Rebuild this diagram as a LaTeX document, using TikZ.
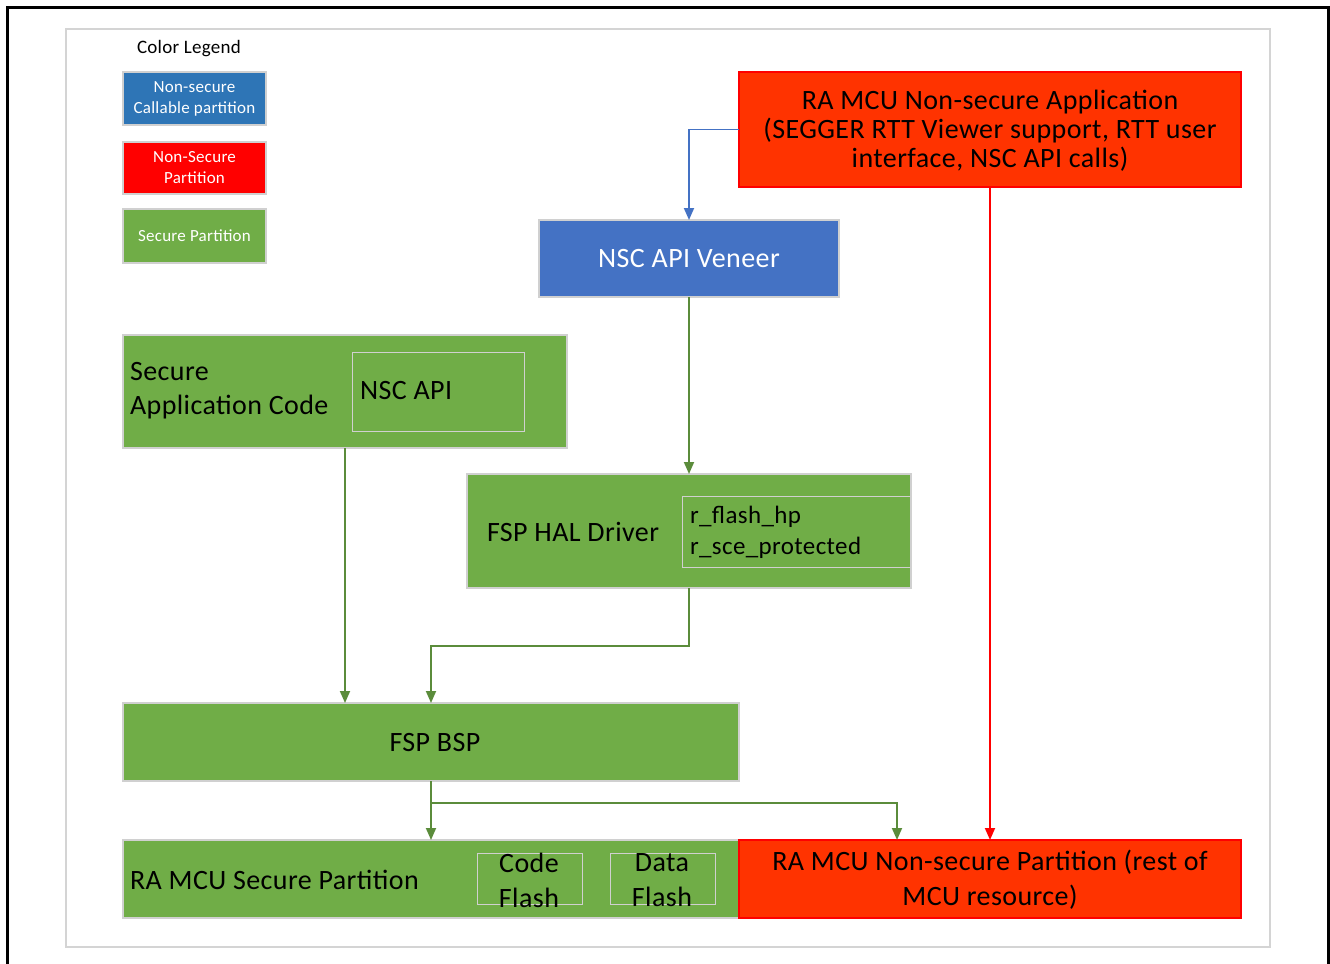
\documentclass[tikz,border=0pt]{standalone}
\usepackage{fontspec}
\setmainfont{Carlito}[LetterSpace=1.5]
\usetikzlibrary{arrows.meta,fit}
\definecolor{sgreen}{HTML}{70AD47}
\definecolor{nsred}{HTML}{FF3300}
\definecolor{legred}{HTML}{FF0000}
\definecolor{legblue}{HTML}{2E75B6}
\definecolor{veneer}{HTML}{4472C4}
\definecolor{agreen}{HTML}{5B8C3B}
\definecolor{edgegray}{HTML}{D0D0D0}
\definecolor{framegray}{HTML}{D4D4D4}
\tikzset{
  outerframe/.style={draw=black, line width=1.5pt},
  grayframe/.style={draw=framegray, line width=1pt},
  boxbase/.style={rectangle, inner sep=0pt, outer sep=0pt, line width=0.6pt},
  gbox/.style={boxbase, fill=sgreen, draw=edgegray},
  rbox/.style={boxbase, fill=nsred, draw=legred},
  legbox/.style={boxbase, draw=edgegray},
  legtext/.style={text=white, align=center, font=\fontsize{8.5}{10.5}\selectfont},
  innerbox/.style={boxbase, draw=edgegray, line width=0.5pt},
  maintext/.style={font=\fontsize{14}{14.5}\selectfont},
  conn/.style={line width=0.9pt, -{Triangle[length=6pt,width=5pt]}},
}
\begin{document}
\begin{tikzpicture}[x=0.5pt,y=-0.5pt]
\useasboundingbox (0,0) rectangle (1330,964);
\draw[outerframe] (7,7) rectangle (1328,1000);
\draw[grayframe] (66,29) rectangle (1270,947);

% legend
\node[font=\fontsize{9.5}{11}\selectfont] (legtitle) at (189,49) {Color Legend};
\node[legbox, fill=legblue, fit={(123,72)(266,125)}] (lblue) {};
\node[legtext] (lbluet) at (lblue.center) {Non-secure\\Callable partition};
\node[legbox, fill=legred, fit={(123,142)(266,194)}] (lred) {};
\node[legtext] (lredt) at (lred.center) {Non-Secure\\Partition};
\node[legbox, fill=sgreen, fit={(123,209)(266,263)}] (lgreen) {};
\node[legtext] (lgreent) at (lgreen.center) {Secure Partition};

% top application
\node[rbox, fit={(739,72)(1241,187)}] (app) {};
\node[align=center, maintext] (appt) at (990,131)
  {RA MCU Non-secure Application\\(SEGGER RTT Viewer support, RTT user\\interface, NSC API calls)};

% veneer
\node[boxbase, fill=veneer, draw=edgegray, fit={(539,220)(839,297)}] (ven) {};
\node[text=white, maintext] (vent) at (689,259) {NSC API Veneer};

% secure application code
\node[gbox, fit={(123,335)(567,448)}] (sac) {};
\node[anchor=west, align=left, font=\fontsize{14}{17}\selectfont] (sactext) at (123,391) {Secure\\Application Code};
\node[innerbox, fit={(352,352)(524,431)}] (nscapi) {};
\node[anchor=west, maintext] (nscapitext) at (353,391) {NSC API};

% FSP HAL driver
\node[gbox, fit={(467,474)(911,588)}] (hal) {};
\node[anchor=west, maintext] (haltext) at (480,532) {FSP HAL Driver};
\node[innerbox, fit={(682,496)(911,567)}] (drv) {};
\node[anchor=west, align=left, font=\fontsize{12.5}{15.5}\selectfont] (drvtext) at (683,532) {r\_flash\_hp\\r\_sce\_protected};

% FSP BSP
\node[gbox, fit={(123,703)(739,781)}] (bsp) {};
\node[maintext] (bspt) at (435,743) {FSP BSP};

% secure partition
\node[gbox, fit={(123,840)(739,918)}] (sp) {};
\node[anchor=west, maintext] (sptext) at (123,880) {RA MCU Secure Partition};
\node[innerbox, fit={(477,853)(582,904)}] (code) {};
\node[align=center, font=\fontsize{14}{17.5}\selectfont] (codet) at (529,880) {Code\\Flash};
\node[innerbox, fit={(610,853)(715,904)}] (data) {};
\node[align=center, font=\fontsize{14}{17.5}\selectfont] (datat) at (662,880) {Data\\Flash};

% non-secure partition
\node[rbox, fit={(739,840)(1241,918)}] (nsp) {};
\node[align=center, font=\fontsize{14}{17.5}\selectfont] (nspt) at (990,880)
  {RA MCU Non-secure Partition (rest of\\MCU resource)};

% connectors
\coordinate (j1) at (431,646);
\coordinate (j2) at (431,803);
\coordinate (j3) at (897,803);
\draw[conn, draw=veneer] (app.west) -| (ven.north);
\draw[conn, draw=agreen] (ven.south) -- (ven.south |- hal.north);
\draw[conn, draw=agreen] (sac.south) -- (sac.south |- bsp.north);
\draw[conn, draw=agreen] (hal.south) |- (j1) -- (j1 |- bsp.north);
\draw[conn, draw=agreen] (bsp.south) -- (sp.north);
\draw[conn, draw=agreen] (j2) -- (j3) -- (j3 |- nsp.north);
\draw[conn, draw=legred] (app.south) -- (nsp.north);
\end{tikzpicture}
\end{document}
